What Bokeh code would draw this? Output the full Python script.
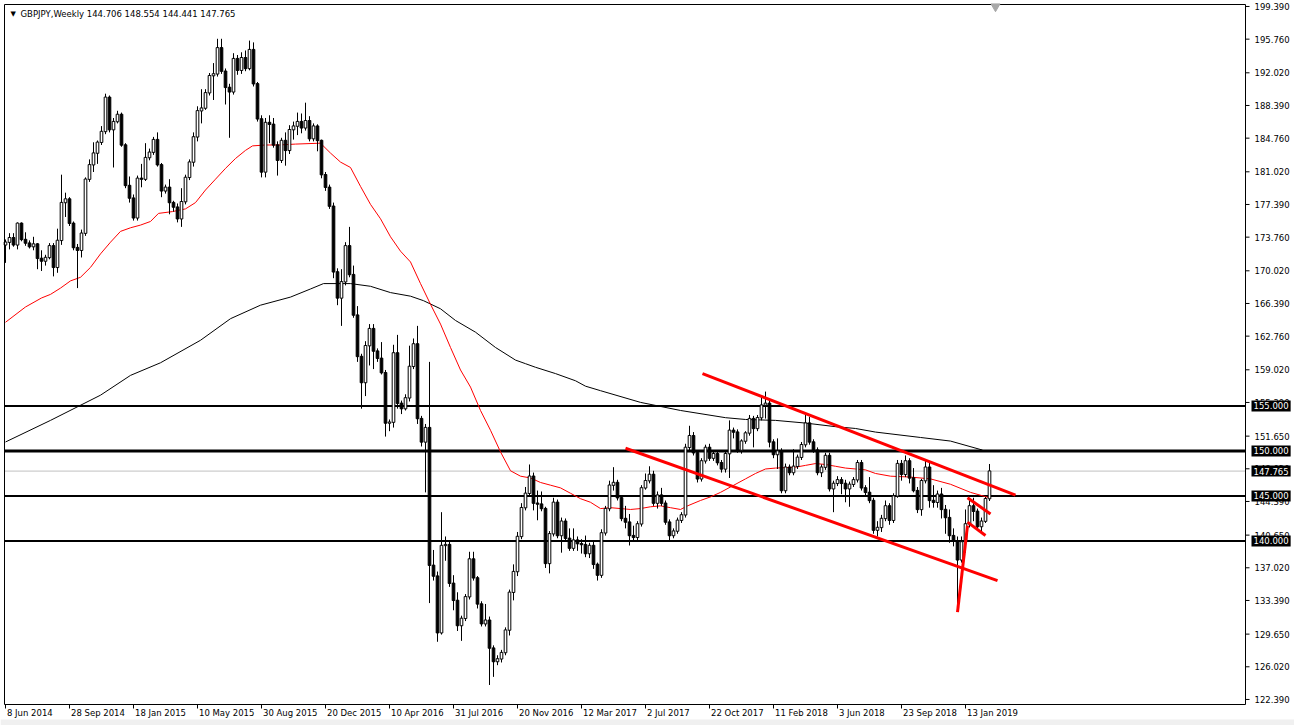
from bokeh.plotting import figure
from bokeh.models import Range1d, Label, ColumnDataSource
from bokeh.core.properties import value
from bokeh.embed import file_html
from bokeh.resources import INLINE

# ---------------- data (weekly GBPJPY, week 0 = 8 Jun 2014) ----------------
opens = [
    172.9,173.2,173.7,172.9,175.3,173.5,173.1,172.7,173.0,171.4,
    171.1,171.5,172.8,170.4,173.4,177.6,178.0,175.3,172.6,172.3,
    174.2,180.2,181.8,183.1,184.3,185.5,189.3,185.7,186.6,187.4,
    184.0,179.5,178.1,175.9,180.3,180.2,182.6,183.2,184.6,181.8,
    178.9,179.3,177.6,177.1,175.8,177.7,180.4,182.1,184.9,187.8,
    188.1,189.8,191.7,191.9,194.8,192.2,190.4,189.9,193.6,192.3,
    193.7,192.5,194.6,190.8,186.9,181.0,186.5,186.3,184.0,182.3,
    184.5,183.4,185.7,186.1,186.6,185.9,186.7,184.7,186.1,184.5,
    180.7,179.3,177.2,169.9,167.0,168.8,172.8,169.6,165.1,160.5,
    157.6,161.7,163.6,161.1,160.3,158.7,153.1,153.2,160.9,155.3,
    154.7,155.9,159.4,161.9,153.6,151.0,152.6,137.3,136.1,129.8,
    139.5,139.6,135.3,133.4,130.6,131.4,133.8,138.0,135.9,133.0,
    130.8,131.2,128.1,126.6,126.9,127.6,130.1,134.3,136.6,140.5,
    143.7,145.3,147.2,144.2,144.1,143.6,137.5,140.8,144.3,140.6,
    142.2,140.3,139.2,140.1,139.7,139.6,138.6,139.5,137.4,136.2,
    140.9,143.6,146.2,146.5,144.8,142.5,142.1,140.6,140.4,141.9,
    145.9,146.7,147.4,144.2,145.1,144.2,142.1,140.6,141.1,142.3,
    142.9,150.4,151.7,149.8,146.9,148.9,150.4,149.2,149.7,148.7,
    148.0,149.7,152.3,152.1,150.1,151.1,152.0,153.6,152.5,153.7,
    155.1,155.3,151.0,149.6,150.0,145.6,148.2,147.6,148.3,149.3,
    150.7,153.1,151.0,150.1,147.6,148.2,149.5,145.8,146.4,146.8,
    146.4,145.8,146.3,146.8,148.7,145.9,145.4,144.5,141.2,141.5,
    142.5,143.9,142.3,145.0,148.6,147.4,148.9,147.0,145.6,143.5,
    146.7,148.2,144.5,144.3,145.2,143.5,142.6,140.6,140.0,137.9,
    139.9,141.9,143.9,143.3,141.6,142.2,144.706,
]
highs = [
    173.5,174.2,174.2,175.4,175.4,174.3,173.4,173.8,173.1,172.3,
    171.8,173.1,173.1,174.7,180.7,178.7,178.2,175.5,173.0,174.6,
    180.4,182.4,184.3,184.5,186.1,189.7,189.5,187.0,187.8,187.6,
    184.2,180.5,178.5,180.6,181.9,184.2,183.6,184.9,185.4,182.0,
    179.6,180.2,177.8,177.5,179.2,180.7,182.4,185.4,188.3,190.2,
    190.2,192.0,193.1,195.8,195.8,192.5,190.8,194.2,194.0,194.3,
    194.5,195.6,195.4,191.0,187.3,187.0,187.3,187.0,184.4,184.8,
    185.4,186.2,186.6,187.6,187.5,188.7,187.2,186.4,186.3,184.6,
    181.0,179.6,177.6,170.3,170.2,173.2,174.9,170.6,166.1,160.8,
    162.2,164.1,164.1,161.4,162.1,159.0,153.5,161.8,162.9,155.6,
    156.3,161.7,162.5,163.9,153.9,153.0,159.9,139.0,136.6,143.2,
    140.5,139.9,136.2,134.3,131.7,134.1,138.8,138.8,136.1,133.3,
    133.0,131.6,128.4,127.3,127.9,130.4,134.6,137.4,141.0,144.2,
    146.0,148.5,147.6,145.6,145.5,143.8,141.1,144.8,144.6,142.6,
    142.5,141.4,141.4,140.5,140.2,140.6,139.8,139.9,137.6,141.3,
    143.9,146.7,148.2,146.8,145.1,143.9,143.0,141.7,142.2,146.2,
    147.5,148.3,147.8,145.5,145.9,144.5,142.4,141.4,142.6,143.2,
    150.8,152.8,152.1,150.1,149.2,150.7,150.8,150.0,150.0,149.0,
    150.0,153.4,152.6,152.4,151.3,152.2,154.0,153.9,154.0,156.1,
    156.6,155.6,151.3,151.4,150.3,148.6,148.5,150.2,149.6,151.0,
    154.0,153.8,151.3,150.4,148.5,149.8,149.8,146.7,147.2,147.1,
    146.8,146.6,147.1,149.0,149.0,146.2,147.1,144.8,142.2,142.9,
    144.5,144.2,145.3,149.0,149.0,149.5,149.2,148.1,146.0,146.9,
    149.1,148.7,146.2,145.6,145.9,144.0,143.5,141.4,140.5,140.5,
    143.5,144.5,144.8,143.6,142.6,144.9,148.554,
]
lows = [
    170.9,172.4,172.7,172.4,173.3,172.8,172.5,172.3,170.2,170.0,
    170.6,171.3,169.4,169.8,172.9,176.0,175.0,172.3,168.1,171.5,
    173.9,179.9,181.0,181.9,184.0,185.2,185.4,181.5,186.4,183.8,
    179.2,177.6,175.6,175.6,179.3,180.0,182.3,182.9,181.6,178.2,
    178.6,176.3,176.6,175.4,174.9,177.4,180.1,181.6,184.4,186.4,
    187.9,189.5,189.0,191.6,191.9,188.5,184.8,189.6,191.8,191.9,
    192.2,192.3,190.5,186.6,180.4,180.4,184.2,183.7,180.6,182.0,
    181.7,183.0,184.6,185.1,185.3,185.6,184.4,184.4,183.3,180.3,
    178.9,176.9,169.2,166.2,163.9,168.4,169.3,164.8,159.9,154.7,
    156.1,159.5,159.1,159.9,158.5,151.6,152.2,152.6,154.7,154.1,
    154.5,155.5,159.1,153.0,150.5,145.4,133.1,135.6,128.8,129.6,
    137.8,134.9,132.3,130.0,128.9,131.1,133.5,135.6,132.5,130.5,
    130.5,124.0,124.9,126.2,126.5,127.3,129.5,133.4,136.1,140.2,
    143.4,145.0,143.4,142.3,143.3,137.0,136.4,140.5,140.3,138.7,
    140.0,138.9,138.9,138.9,138.6,138.2,138.1,136.9,135.6,135.9,
    140.6,143.3,145.6,144.5,142.2,141.4,139.5,139.9,140.1,141.6,
    145.7,146.4,143.9,143.6,143.9,141.8,140.0,140.3,140.8,142.0,
    142.6,150.1,149.5,146.5,146.6,148.6,148.9,148.9,148.4,147.6,
    147.6,147.0,151.4,149.8,149.7,150.8,151.7,150.4,152.2,153.4,
    153.6,150.4,149.2,148.0,145.3,145.3,147.3,147.3,148.0,149.0,
    150.4,150.7,149.8,147.3,147.1,147.9,145.5,143.2,146.1,145.2,
    144.3,143.8,146.0,146.5,145.6,145.1,144.2,140.8,140.5,141.0,
    142.2,141.8,142.0,144.8,146.7,147.1,146.4,145.4,143.1,142.8,
    146.4,143.7,143.7,143.7,142.5,140.8,139.8,139.4,132.2,137.6,
    138.7,141.5,142.2,141.3,140.9,142.0,144.441,
]
closes = [
    173.2,173.7,172.9,175.3,173.5,173.1,172.7,173.0,171.4,171.1,
    171.5,172.8,170.4,173.4,177.6,178.0,175.3,172.6,172.3,174.2,
    180.2,181.8,183.1,184.3,185.5,189.3,185.7,186.6,187.4,184.0,
    179.5,178.1,175.9,180.3,180.2,182.6,183.2,184.6,181.8,178.9,
    179.3,177.6,177.1,175.8,177.7,180.4,182.1,184.9,187.8,188.1,
    189.8,191.7,191.9,194.8,192.2,190.4,189.9,193.6,192.3,193.7,
    192.5,194.6,190.8,186.9,181.0,186.5,186.3,184.0,182.3,184.5,
    183.4,185.7,186.1,186.6,185.9,186.7,184.7,186.1,184.5,180.7,
    179.3,177.2,169.9,167.0,168.8,172.8,169.6,165.1,160.5,157.6,
    161.7,163.6,161.1,160.3,158.7,153.1,153.2,160.9,155.3,154.7,
    155.9,159.4,161.9,153.6,151.0,152.6,137.3,136.1,129.8,139.5,
    139.6,135.3,133.4,130.6,131.4,133.8,138.0,135.9,133.0,130.8,
    131.2,128.1,126.6,126.9,127.6,130.1,134.3,136.6,140.5,143.7,
    145.3,147.2,144.2,144.1,143.6,137.5,140.8,144.3,140.6,142.2,
    140.3,139.2,140.1,139.7,139.6,138.6,139.5,137.4,136.2,140.9,
    143.6,146.2,146.5,144.8,142.5,142.1,140.6,140.4,141.9,145.9,
    146.7,147.4,144.2,145.1,144.2,142.1,140.6,141.1,142.3,142.9,
    150.4,151.7,149.8,146.9,148.9,150.4,149.2,149.7,148.7,148.0,
    149.7,152.3,152.1,150.1,151.1,152.0,153.6,152.5,153.7,155.1,
    155.3,151.0,149.6,150.0,145.6,148.2,147.6,148.3,149.3,150.7,
    153.1,151.0,150.1,147.6,148.2,149.5,145.8,146.4,146.8,146.4,
    145.8,146.3,146.8,148.7,145.9,145.4,144.5,141.2,141.5,142.5,
    143.9,142.3,145.0,148.6,147.4,148.9,147.0,145.6,143.5,146.7,
    148.2,144.5,144.3,145.2,143.5,142.6,140.6,140.0,137.9,139.9,
    141.9,143.9,143.3,141.6,142.2,144.7,147.765,
]

tick_weeks = [0, 16, 32, 48, 64, 80, 96, 112, 128, 144, 160, 176, 192, 208, 224, 240]
tick_labels = ["8 Jun 2014", "28 Sep 2014", "18 Jan 2015", "10 May 2015", "30 Aug 2015",
               "20 Dec 2015", "10 Apr 2016", "31 Jul 2016", "20 Nov 2016", "12 Mar 2017",
               "2 Jul 2017", "22 Oct 2017", "11 Feb 2018", "3 Jun 2018", "23 Sep 2018",
               "13 Jan 2019"]
price_ticks = [199.39, 195.76, 192.02, 188.39, 184.76, 181.02, 177.39, 173.76, 170.02,
               166.39, 162.76, 159.02, 155.39, 151.65, 148.02, 144.39, 140.65, 137.02,
               133.39, 129.65, 126.02, 122.39]

ma_red_weeks = [0, 5, 9, 11.25, 13.75, 16.25, 18.75, 21.25, 23.75, 26.25, 28.75, 31.25, 33.75,
                36.25, 38.25, 41.75, 45, 47.5, 50, 52.5, 55, 57.5, 60, 61.75, 65, 68.25, 72.5,
                78.75, 81.25, 83.75, 86.25, 88.75, 91.25, 93.75, 96.25, 98.75, 101.25, 103.75,
                106.25, 108.75, 111.25, 113.75, 116.25, 118.75, 121.25, 123.75, 126.25, 128.75,
                131.25, 133.75, 136.25, 138.75, 141.25, 143.75, 146.25, 148.75, 151.25, 153.75,
                156.25, 158.75, 161.25, 163.75, 166.25, 168.75, 170.5, 173.75, 176.25, 178.75,
                181.25, 185, 187.5, 190, 192.5, 197.5, 200, 202.5, 205, 207.5, 210, 212.5, 215,
                217.5, 221.25, 226.25, 231.25, 236.25, 241.25, 246]
ma_red_vals = [164.3, 166.0, 167.0, 167.4, 168.1, 168.9, 169.3, 170.4, 171.9, 173.2, 174.4,
               174.8, 175.1, 175.5, 176.4, 176.6, 176.9, 177.6, 179.0, 180.2, 181.4, 182.5,
               183.4, 183.9, 184.0, 184.0, 184.1, 184.2, 183.1, 182.1, 181.5, 179.4, 177.4,
               175.8, 173.8, 172.2, 171.0, 168.6, 166.3, 164.1, 161.5, 159.0, 157.1, 154.5,
               152.3, 149.9, 147.8, 147.2, 147.0, 146.5, 146.2, 145.9, 145.3, 144.7, 144.3,
               143.6, 143.7, 143.6, 143.5, 143.6, 143.8, 143.9, 143.7, 143.5, 143.9, 144.5,
               144.9, 145.4, 146.0, 146.9, 147.5, 148.0, 148.1, 148.2, 148.4, 148.6, 148.5,
               148.3, 148.1, 148.0, 147.9, 147.5, 147.2, 147.1, 146.9, 146.3, 145.4, 144.8]
ma_black_weeks = [0, 11.25, 23.75, 31.25, 38.75, 48.75, 56.25, 63.75, 71.25, 76.25, 79.5,
                  86.25, 91.25, 96.25, 101.25, 104.5, 108.75, 112.5, 117.5, 122.5, 127.5, 130,
                  132.5, 137.5, 142.5, 145, 148.75, 158.75, 168.75, 180, 185, 192.5, 200, 207.5,
                  212.5, 217.5, 228.75, 236.25, 244.25]
ma_black_vals = [151.0, 153.4, 156.2, 158.4, 159.8, 162.3, 164.7, 166.2, 167.1, 168.0, 168.6,
                 168.6, 168.3, 167.6, 167.2, 166.7, 165.8, 164.5, 163.2, 161.5, 160.1, 159.7,
                 159.3, 158.6, 157.8, 157.2, 156.7, 155.4, 154.5, 153.7, 153.5, 153.4, 153.1,
                 152.7, 152.5, 152.1, 151.5, 151.1, 150.1]

levels = [155.0, 150.0, 145.0, 140.0]
level_widths = [2, 3, 2, 2]
last_price = 147.765

trend_lines = [  # (week0, price0, week1, price1)
    (174.25, 158.6, 252.5, 145.1),
    (155.0, 150.3, 248.0, 135.6),
    (238.0, 132.1, 240.5, 141.7),
    (240.5, 144.8, 246.25, 143.0),
    (240.5, 142.1, 245.0, 140.6),
]

# ---------------- geometry (canvas pixels -> data ranges) ----------------
W, H = 1294, 725
FL, FR = 4, 1245          # chart frame left / price-axis x (canvas px)
FT, FB = 4, 704           # chart frame top / bottom (canvas px)
X0, XA = -0.25, 310.0     # week index at frame left / at price axis
Y0, Y1 = 121.83, 199.61   # price at frame bottom / top
ppx = (FR - FL) / (XA - X0)
ppy = (FB - FT) / (Y1 - Y0)
XS, XE = X0 - FL / ppx, X0 + (W - FL) / ppx
YS, YE = Y1 - (H - FT) / ppy, Y1 + FT / ppy

FONT = "DejaVu Sans"
FS = "8.5px"

p = figure(width=W, height=H, x_range=Range1d(XS, XE), y_range=Range1d(YS, YE),
           output_backend="svg", toolbar_location=None, min_border=0)
p.background_fill_color = "white"
p.border_fill_color = "white"
p.outline_line_color = None
p.xgrid.visible = False
p.ygrid.visible = False
p.xaxis.visible = False
p.yaxis.visible = False

# window strip at the bottom
p.quad(left=[XS], right=[XE], bottom=[YS], top=[Y1 - (719 - FT) / ppy],
       fill_color="#f0f0f0", line_color=None)

# reference lines (stop at the price axis)
p.segment(x0=[X0] * len(levels), y0=levels, x1=[XA] * len(levels), y1=levels,
          line_color="black", line_width=level_widths)
p.segment(x0=[X0], y0=[last_price], x1=[XA], y1=[last_price],
          line_color="#c0c0c0", line_width=1)

# moving averages
p.line(ma_black_weeks, ma_black_vals, line_color="black", line_width=1)
p.line(ma_red_weeks, ma_red_vals, line_color="#ff0000", line_width=1)

# candles
weeks = list(range(len(closes)))
src = ColumnDataSource(dict(
    x=weeks, o=opens, h=highs, l=lows, c=closes,
    top=[max(a, b) + 0.02 for a, b in zip(opens, closes)],
    bot=[min(a, b) - 0.02 for a, b in zip(opens, closes)],
    fill=["white" if c >= o else "black" for o, c in zip(opens, closes)],
))
p.segment(x0="x", y0="l", x1="x", y1="h", source=src, line_color="black", line_width=1)
p.vbar(x="x", width=0.66, top="top", bottom="bot", source=src,
       fill_color="fill", line_color="black", line_width=1)

# trend lines
p.segment(x0=[t[0] for t in trend_lines], y0=[t[1] for t in trend_lines],
          x1=[t[2] for t in trend_lines], y1=[t[3] for t in trend_lines],
          line_color="#ff0000", line_width=3)

# frame + axes drawn in the same scales
p.segment(x0=[X0, X0, X0, XA], y0=[Y0, Y1, Y0, Y0], x1=[X0, XA, XA, XA], y1=[Y1, Y1, Y0, Y1],
          line_color="black", line_width=1)
# price-axis ticks and labels
p.segment(x0=[XA] * len(price_ticks), y0=price_ticks,
          x1=[XA + 4 / ppx] * len(price_ticks), y1=price_ticks,
          line_color="black", line_width=1)
p.text(x=[XA + 9 / ppx] * len(price_ticks), y=price_ticks,
       text=["%.3f" % v for v in price_ticks], text_align="left", text_baseline="middle",
       text_font=value(FONT), text_font_size=value(FS), text_color="black")
# time-axis ticks and labels
p.segment(x0=tick_weeks, y0=[Y0] * len(tick_weeks), x1=tick_weeks,
          y1=[Y0 - 4 / ppy] * len(tick_weeks), line_color="black", line_width=1)
p.text(x=[t + 1.5 / ppx for t in tick_weeks], y=[Y0 - 3 / ppy] * len(tick_weeks),
       text=tick_labels, text_align="left", text_baseline="top",
       text_font=value(FONT), text_font_size=value(FS), text_color="black")

# shift marker at top
p.scatter([247.5], [Y1 - 2 / ppy], marker="inverted_triangle", size=9,
          fill_color="#a8a8a8", line_color="#a8a8a8")

# title
p.add_layout(Label(x=X0, y=Y1, x_offset=6, y_offset=-5, text="\u25bc", text_font=FONT,
                   text_font_size="7px", text_baseline="top", text_align="left",
                   text_color="black"))
p.add_layout(Label(x=X0, y=Y1, x_offset=16, y_offset=-4,
                   text="GBPJPY,Weekly  144.706 148.554 144.441 147.765",
                   text_font=FONT, text_font_size=FS, text_baseline="top",
                   text_align="left", text_color="black"))

# right-hand price boxes
for lv in levels + [last_price]:
    p.add_layout(Label(x=XA, y=lv, x_offset=6, text="%.3f" % lv, text_font=FONT,
                       text_font_size=FS, text_baseline="middle", text_align="left",
                       text_color="white", background_fill_color="black",
                       padding=2))

html = file_html(p, INLINE)
open("out.html", "w").write(html)
